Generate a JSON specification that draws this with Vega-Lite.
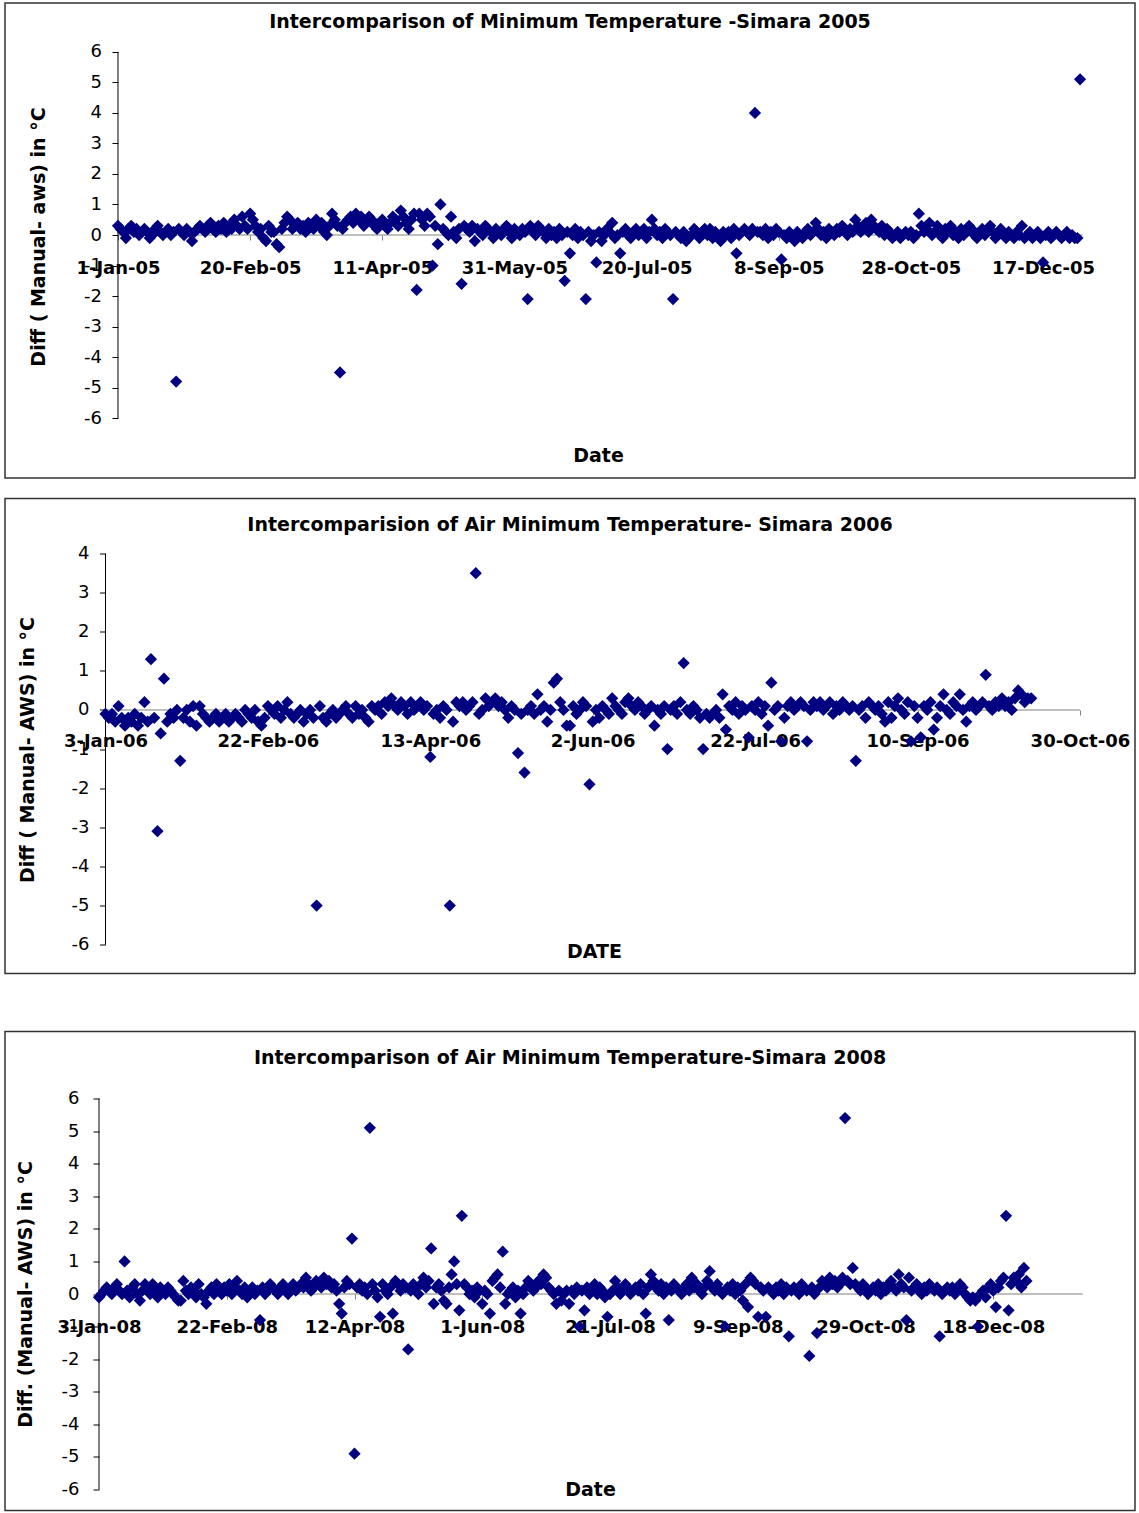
{
"$schema": "https://vega.github.io/schema/vega-lite/v6.json",
"background": "white",
"padding": {"left": 4, "top": 2, "right": 0, "bottom": 0},
"config": {
  "view": {"stroke": "#333333", "strokeWidth": 1.5},
  "font": "DejaVu Sans",
  "title": {"font": "DejaVu Sans", "fontSize": 19, "fontWeight": "bold", "color": "#000000", "anchor": "middle", "baseline": "alphabetic"},
  "axis": {"grid": false, "domain": false, "labelColor": "#000000", "titleColor": "#000000", "labelFont": "DejaVu Sans", "titleFont": "DejaVu Sans", "titleFontSize": 19, "titleFontWeight": "bold", "labelFlush": false, "labelOverlap": false, "labelBound": false, "titleBaseline": "middle", "titleAlign": "center"},
  "axisX": {"tickSize": 5, "tickColor": "#808080", "labelFontSize": 18, "labelFontWeight": "bold", "format": "%-d-%b-%y"},
  "axisY": {"tickSize": 6, "tickColor": "#000000", "labelFontSize": 18, "labelFontWeight": "normal", "labelExpr": "'' + datum.value"}
},
"datasets": {
"p2005": [
{"d":"2005-01-01","v":0.3},{"d":"2005-01-02","v":0.2},{"d":"2005-01-03","v":0.1},{"d":"2005-01-04","v":-0.1},{"d":"2005-01-05","v":0.2},{"d":"2005-01-06","v":0.3},{"d":"2005-01-07","v":0.1},{"d":"2005-01-08","v":0.2},{"d":"2005-01-09","v":0},{"d":"2005-01-10","v":0.1},{"d":"2005-01-11","v":0.2},{"d":"2005-01-12","v":0.1},{"d":"2005-01-13","v":-0.1},{"d":"2005-01-14","v":0},{"d":"2005-01-15","v":0.2},{"d":"2005-01-16","v":0.3},{"d":"2005-01-17","v":0.1},{"d":"2005-01-18","v":0},{"d":"2005-01-19","v":0.1},{"d":"2005-01-20","v":0.2},{"d":"2005-01-21","v":0},{"d":"2005-01-22","v":0.1},{"d":"2005-01-23","v":-4.8},{"d":"2005-01-24","v":0.2},{"d":"2005-01-25","v":0.1},{"d":"2005-01-26","v":0},{"d":"2005-01-27","v":0.2},{"d":"2005-01-28","v":0.1},{"d":"2005-01-29","v":-0.2},{"d":"2005-01-30","v":0.1},{"d":"2005-01-31","v":0.2},
{"d":"2005-02-01","v":0.3},{"d":"2005-02-02","v":0.2},{"d":"2005-02-03","v":0.1},{"d":"2005-02-04","v":0.3},{"d":"2005-02-05","v":0.4},{"d":"2005-02-06","v":0.2},{"d":"2005-02-07","v":0.1},{"d":"2005-02-08","v":0.3},{"d":"2005-02-09","v":0.2},{"d":"2005-02-10","v":0.4},{"d":"2005-02-11","v":0.1},{"d":"2005-02-12","v":0.3},{"d":"2005-02-13","v":0.2},{"d":"2005-02-14","v":0.5},{"d":"2005-02-15","v":0.3},{"d":"2005-02-16","v":0.2},{"d":"2005-02-17","v":0.6},{"d":"2005-02-18","v":0.3},{"d":"2005-02-19","v":0.2},{"d":"2005-02-20","v":0.7},{"d":"2005-02-21","v":0.5},{"d":"2005-02-22","v":0.3},{"d":"2005-02-23","v":0.1},{"d":"2005-02-24","v":0.2},{"d":"2005-02-25","v":-0.1},{"d":"2005-02-26","v":-0.2},{"d":"2005-02-27","v":0.3},{"d":"2005-02-28","v":0.1},
{"d":"2005-03-01","v":0.1},{"d":"2005-03-02","v":-0.3},{"d":"2005-03-03","v":-0.4},{"d":"2005-03-04","v":0.2},{"d":"2005-03-05","v":0.4},{"d":"2005-03-06","v":0.6},{"d":"2005-03-07","v":0.5},{"d":"2005-03-08","v":0.2},{"d":"2005-03-09","v":0.3},{"d":"2005-03-10","v":0.4},{"d":"2005-03-11","v":0.2},{"d":"2005-03-12","v":0.3},{"d":"2005-03-13","v":0.1},{"d":"2005-03-14","v":0.4},{"d":"2005-03-15","v":0.3},{"d":"2005-03-16","v":0.2},{"d":"2005-03-17","v":0.5},{"d":"2005-03-18","v":0.3},{"d":"2005-03-19","v":0.4},{"d":"2005-03-20","v":0.1},{"d":"2005-03-21","v":0},{"d":"2005-03-22","v":0.3},{"d":"2005-03-23","v":0.7},{"d":"2005-03-24","v":0.5},{"d":"2005-03-25","v":0.3},{"d":"2005-03-26","v":-4.5},{"d":"2005-03-27","v":0.2},{"d":"2005-03-28","v":0.4},{"d":"2005-03-29","v":0.5},{"d":"2005-03-30","v":0.6},{"d":"2005-03-31","v":0.4},
{"d":"2005-04-01","v":0.7},{"d":"2005-04-02","v":0.5},{"d":"2005-04-03","v":0.6},{"d":"2005-04-04","v":0.3},{"d":"2005-04-05","v":0.4},{"d":"2005-04-06","v":0.6},{"d":"2005-04-07","v":0.5},{"d":"2005-04-08","v":0.3},{"d":"2005-04-09","v":0.2},{"d":"2005-04-10","v":0.4},{"d":"2005-04-11","v":0.5},{"d":"2005-04-12","v":0.3},{"d":"2005-04-13","v":0.2},{"d":"2005-04-14","v":0.4},{"d":"2005-04-15","v":0.6},{"d":"2005-04-16","v":0.5},{"d":"2005-04-17","v":0.3},{"d":"2005-04-18","v":0.8},{"d":"2005-04-19","v":0.6},{"d":"2005-04-20","v":0.4},{"d":"2005-04-21","v":0.2},{"d":"2005-04-22","v":0.5},{"d":"2005-04-23","v":0.7},{"d":"2005-04-24","v":-1.8},{"d":"2005-04-25","v":0.7},{"d":"2005-04-26","v":0.5},{"d":"2005-04-27","v":0.3},{"d":"2005-04-28","v":0.7},{"d":"2005-04-29","v":0.6},{"d":"2005-04-30","v":-1},
{"d":"2005-05-01","v":0.3},{"d":"2005-05-02","v":-0.3},{"d":"2005-05-03","v":1},{"d":"2005-05-04","v":0.2},{"d":"2005-05-05","v":0.1},{"d":"2005-05-06","v":0},{"d":"2005-05-07","v":0.6},{"d":"2005-05-08","v":0.1},{"d":"2005-05-09","v":-0.1},{"d":"2005-05-10","v":0.2},{"d":"2005-05-11","v":-1.6},{"d":"2005-05-12","v":0.3},{"d":"2005-05-13","v":0.2},{"d":"2005-05-14","v":0.1},{"d":"2005-05-15","v":0.3},{"d":"2005-05-16","v":-0.2},{"d":"2005-05-17","v":0.2},{"d":"2005-05-18","v":0.1},{"d":"2005-05-19","v":0},{"d":"2005-05-20","v":0.3},{"d":"2005-05-21","v":0.2},{"d":"2005-05-22","v":0.1},{"d":"2005-05-23","v":-0.1},{"d":"2005-05-24","v":0.2},{"d":"2005-05-25","v":0.1},{"d":"2005-05-26","v":0},{"d":"2005-05-27","v":0.2},{"d":"2005-05-28","v":0.3},{"d":"2005-05-29","v":0.1},{"d":"2005-05-30","v":-0.1},{"d":"2005-05-31","v":0.2},
{"d":"2005-06-01","v":0.1},{"d":"2005-06-02","v":0},{"d":"2005-06-03","v":0.2},{"d":"2005-06-04","v":0.1},{"d":"2005-06-05","v":-2.1},{"d":"2005-06-06","v":0.3},{"d":"2005-06-07","v":0.1},{"d":"2005-06-08","v":0},{"d":"2005-06-09","v":0.3},{"d":"2005-06-10","v":0.2},{"d":"2005-06-11","v":0.1},{"d":"2005-06-12","v":-0.1},{"d":"2005-06-13","v":0.2},{"d":"2005-06-14","v":0},{"d":"2005-06-15","v":0.1},{"d":"2005-06-16","v":-0.1},{"d":"2005-06-17","v":0.2},{"d":"2005-06-18","v":0},{"d":"2005-06-19","v":-1.5},{"d":"2005-06-20","v":0.1},{"d":"2005-06-21","v":-0.6},{"d":"2005-06-22","v":0},{"d":"2005-06-23","v":0.2},{"d":"2005-06-24","v":-0.1},{"d":"2005-06-25","v":0.1},{"d":"2005-06-26","v":0},{"d":"2005-06-27","v":-2.1},{"d":"2005-06-28","v":0.1},{"d":"2005-06-29","v":-0.2},{"d":"2005-06-30","v":0},
{"d":"2005-07-01","v":-0.9},{"d":"2005-07-02","v":0.1},{"d":"2005-07-03","v":-0.2},{"d":"2005-07-04","v":0},{"d":"2005-07-05","v":0.2},{"d":"2005-07-06","v":0.1},{"d":"2005-07-07","v":0.4},{"d":"2005-07-08","v":-0.1},{"d":"2005-07-09","v":0},{"d":"2005-07-10","v":-0.6},{"d":"2005-07-11","v":0.1},{"d":"2005-07-12","v":0.2},{"d":"2005-07-13","v":0},{"d":"2005-07-14","v":-0.1},{"d":"2005-07-15","v":0.1},{"d":"2005-07-16","v":0.2},{"d":"2005-07-17","v":0},{"d":"2005-07-18","v":0.1},{"d":"2005-07-19","v":0.2},{"d":"2005-07-20","v":-0.1},{"d":"2005-07-21","v":0.1},{"d":"2005-07-22","v":0.5},{"d":"2005-07-23","v":0.2},{"d":"2005-07-24","v":0},{"d":"2005-07-25","v":0.1},{"d":"2005-07-26","v":-0.1},{"d":"2005-07-27","v":0.2},{"d":"2005-07-28","v":0.1},{"d":"2005-07-29","v":0},{"d":"2005-07-30","v":-2.1},{"d":"2005-07-31","v":0.1},
{"d":"2005-08-01","v":0},{"d":"2005-08-02","v":-0.1},{"d":"2005-08-03","v":0.1},{"d":"2005-08-04","v":-0.2},{"d":"2005-08-05","v":-0.1},{"d":"2005-08-06","v":0},{"d":"2005-08-07","v":0.2},{"d":"2005-08-08","v":0.1},{"d":"2005-08-09","v":-0.1},{"d":"2005-08-10","v":0.1},{"d":"2005-08-11","v":0.2},{"d":"2005-08-12","v":0},{"d":"2005-08-13","v":0.2},{"d":"2005-08-14","v":-0.1},{"d":"2005-08-15","v":0.1},{"d":"2005-08-16","v":0},{"d":"2005-08-17","v":-0.2},{"d":"2005-08-18","v":0.1},{"d":"2005-08-19","v":0},{"d":"2005-08-20","v":0.1},{"d":"2005-08-21","v":-0.1},{"d":"2005-08-22","v":0.2},{"d":"2005-08-23","v":-0.6},{"d":"2005-08-24","v":0},{"d":"2005-08-25","v":0.1},{"d":"2005-08-26","v":0.2},{"d":"2005-08-27","v":0.1},{"d":"2005-08-28","v":0},{"d":"2005-08-29","v":0.2},{"d":"2005-08-30","v":4},{"d":"2005-08-31","v":0.1},
{"d":"2005-09-01","v":0.1},{"d":"2005-09-02","v":0},{"d":"2005-09-03","v":0.2},{"d":"2005-09-04","v":-0.1},{"d":"2005-09-05","v":0.1},{"d":"2005-09-06","v":0},{"d":"2005-09-07","v":0.2},{"d":"2005-09-08","v":0.1},{"d":"2005-09-09","v":-0.8},{"d":"2005-09-10","v":0},{"d":"2005-09-11","v":-0.1},{"d":"2005-09-12","v":0.1},{"d":"2005-09-13","v":0},{"d":"2005-09-14","v":-0.2},{"d":"2005-09-15","v":0.1},{"d":"2005-09-16","v":0},{"d":"2005-09-17","v":-0.1},{"d":"2005-09-18","v":0.1},{"d":"2005-09-19","v":0.2},{"d":"2005-09-20","v":0},{"d":"2005-09-21","v":0.1},{"d":"2005-09-22","v":0.4},{"d":"2005-09-23","v":0.2},{"d":"2005-09-24","v":0},{"d":"2005-09-25","v":0.1},{"d":"2005-09-26","v":-0.1},{"d":"2005-09-27","v":0.2},{"d":"2005-09-28","v":0.1},{"d":"2005-09-29","v":0},{"d":"2005-09-30","v":0.2},
{"d":"2005-10-01","v":0.1},{"d":"2005-10-02","v":0.3},{"d":"2005-10-03","v":0.2},{"d":"2005-10-04","v":0},{"d":"2005-10-05","v":0.2},{"d":"2005-10-06","v":0.1},{"d":"2005-10-07","v":0.5},{"d":"2005-10-08","v":0.3},{"d":"2005-10-09","v":0.1},{"d":"2005-10-10","v":0.2},{"d":"2005-10-11","v":0.4},{"d":"2005-10-12","v":0.1},{"d":"2005-10-13","v":0.5},{"d":"2005-10-14","v":0.3},{"d":"2005-10-15","v":0.2},{"d":"2005-10-16","v":0.1},{"d":"2005-10-17","v":0.3},{"d":"2005-10-18","v":0},{"d":"2005-10-19","v":0.2},{"d":"2005-10-20","v":0.1},{"d":"2005-10-21","v":-0.1},{"d":"2005-10-22","v":0},{"d":"2005-10-23","v":0.1},{"d":"2005-10-24","v":-0.1},{"d":"2005-10-25","v":0},{"d":"2005-10-26","v":0.1},{"d":"2005-10-27","v":0},{"d":"2005-10-28","v":0.1},{"d":"2005-10-29","v":-0.1},{"d":"2005-10-30","v":0},{"d":"2005-10-31","v":0.7},
{"d":"2005-11-01","v":0.3},{"d":"2005-11-02","v":0.1},{"d":"2005-11-03","v":0.2},{"d":"2005-11-04","v":0.4},{"d":"2005-11-05","v":0},{"d":"2005-11-06","v":0.1},{"d":"2005-11-07","v":0.3},{"d":"2005-11-08","v":0},{"d":"2005-11-09","v":-0.1},{"d":"2005-11-10","v":0.2},{"d":"2005-11-11","v":0.1},{"d":"2005-11-12","v":0.3},{"d":"2005-11-13","v":0},{"d":"2005-11-14","v":0.1},{"d":"2005-11-15","v":-0.1},{"d":"2005-11-16","v":0.2},{"d":"2005-11-17","v":0},{"d":"2005-11-18","v":0.1},{"d":"2005-11-19","v":0.3},{"d":"2005-11-20","v":0.2},{"d":"2005-11-21","v":0},{"d":"2005-11-22","v":-0.1},{"d":"2005-11-23","v":0.1},{"d":"2005-11-24","v":0.2},{"d":"2005-11-25","v":0},{"d":"2005-11-26","v":0.1},{"d":"2005-11-27","v":0.3},{"d":"2005-11-28","v":0.1},{"d":"2005-11-29","v":-0.1},{"d":"2005-11-30","v":0},
{"d":"2005-12-01","v":0.2},{"d":"2005-12-02","v":0},{"d":"2005-12-03","v":-0.1},{"d":"2005-12-04","v":0.1},{"d":"2005-12-05","v":0},{"d":"2005-12-06","v":-0.1},{"d":"2005-12-07","v":0.1},{"d":"2005-12-08","v":0},{"d":"2005-12-09","v":0.3},{"d":"2005-12-10","v":-0.1},{"d":"2005-12-11","v":0},{"d":"2005-12-12","v":0.1},{"d":"2005-12-13","v":-0.1},{"d":"2005-12-14","v":0},{"d":"2005-12-15","v":0.1},{"d":"2005-12-16","v":-0.1},{"d":"2005-12-17","v":-0.9},{"d":"2005-12-18","v":0},{"d":"2005-12-19","v":0.1},{"d":"2005-12-20","v":-0.1},{"d":"2005-12-21","v":0},{"d":"2005-12-22","v":0.1},{"d":"2005-12-23","v":0},{"d":"2005-12-24","v":-0.1},{"d":"2005-12-25","v":0},{"d":"2005-12-26","v":0.1},{"d":"2005-12-27","v":-0.1},{"d":"2005-12-28","v":0},{"d":"2005-12-29","v":-0.1},{"d":"2005-12-30","v":-0.1},{"d":"2005-12-31","v":5.1}
],
"p2006": [
{"d":"2006-01-03","v":-0.1},{"d":"2006-01-04","v":-0.2},{"d":"2006-01-05","v":-0.1},{"d":"2006-01-06","v":-0.3},{"d":"2006-01-07","v":0.1},{"d":"2006-01-08","v":-0.2},{"d":"2006-01-09","v":-0.4},{"d":"2006-01-10","v":-0.2},{"d":"2006-01-11","v":-0.3},{"d":"2006-01-12","v":-0.1},{"d":"2006-01-13","v":-0.4},{"d":"2006-01-14","v":-0.2},{"d":"2006-01-15","v":0.2},{"d":"2006-01-16","v":-0.3},{"d":"2006-01-17","v":1.3},{"d":"2006-01-18","v":-0.2},{"d":"2006-01-19","v":-3.1},{"d":"2006-01-20","v":-0.6},{"d":"2006-01-21","v":0.8},{"d":"2006-01-22","v":-0.3},{"d":"2006-01-23","v":-0.1},{"d":"2006-01-24","v":-0.2},{"d":"2006-01-25","v":0},{"d":"2006-01-26","v":-1.3},{"d":"2006-01-27","v":-0.2},{"d":"2006-01-28","v":0},{"d":"2006-01-29","v":-0.3},{"d":"2006-01-30","v":0.1},{"d":"2006-01-31","v":-0.4},
{"d":"2006-02-01","v":0.1},{"d":"2006-02-02","v":-0.1},{"d":"2006-02-03","v":-0.2},{"d":"2006-02-04","v":-0.3},{"d":"2006-02-05","v":-0.2},{"d":"2006-02-06","v":-0.1},{"d":"2006-02-07","v":-0.3},{"d":"2006-02-08","v":-0.2},{"d":"2006-02-09","v":-0.1},{"d":"2006-02-10","v":-0.3},{"d":"2006-02-11","v":-0.2},{"d":"2006-02-12","v":-0.1},{"d":"2006-02-13","v":-0.2},{"d":"2006-02-14","v":-0.3},{"d":"2006-02-15","v":0},{"d":"2006-02-16","v":-0.1},{"d":"2006-02-17","v":-0.2},{"d":"2006-02-18","v":0},{"d":"2006-02-19","v":-0.3},{"d":"2006-02-20","v":-0.4},{"d":"2006-02-21","v":-0.2},{"d":"2006-02-22","v":0.1},{"d":"2006-02-23","v":0},{"d":"2006-02-24","v":-0.1},{"d":"2006-02-25","v":0.1},{"d":"2006-02-26","v":-0.2},{"d":"2006-02-27","v":0},{"d":"2006-02-28","v":0.2},
{"d":"2006-03-01","v":-0.1},{"d":"2006-03-02","v":-0.2},{"d":"2006-03-03","v":-0.1},{"d":"2006-03-04","v":0},{"d":"2006-03-05","v":-0.3},{"d":"2006-03-06","v":-0.1},{"d":"2006-03-07","v":0},{"d":"2006-03-08","v":-0.2},{"d":"2006-03-09","v":-5},{"d":"2006-03-10","v":0.1},{"d":"2006-03-11","v":-0.2},{"d":"2006-03-12","v":-0.3},{"d":"2006-03-13","v":-0.1},{"d":"2006-03-14","v":0},{"d":"2006-03-15","v":-0.2},{"d":"2006-03-16","v":-0.1},{"d":"2006-03-17","v":0},{"d":"2006-03-18","v":0.1},{"d":"2006-03-19","v":-0.1},{"d":"2006-03-20","v":-0.2},{"d":"2006-03-21","v":0.1},{"d":"2006-03-22","v":-0.1},{"d":"2006-03-23","v":0},{"d":"2006-03-24","v":-0.2},{"d":"2006-03-25","v":-0.3},{"d":"2006-03-26","v":0.1},{"d":"2006-03-27","v":0},{"d":"2006-03-28","v":0.1},{"d":"2006-03-29","v":-0.1},{"d":"2006-03-30","v":0.2},{"d":"2006-03-31","v":0.1},
{"d":"2006-04-01","v":0.3},{"d":"2006-04-02","v":0.1},{"d":"2006-04-03","v":0},{"d":"2006-04-04","v":0.2},{"d":"2006-04-05","v":0.1},{"d":"2006-04-06","v":-0.1},{"d":"2006-04-07","v":0.2},{"d":"2006-04-08","v":0},{"d":"2006-04-09","v":0.1},{"d":"2006-04-10","v":0.2},{"d":"2006-04-11","v":0},{"d":"2006-04-12","v":0.1},{"d":"2006-04-13","v":-1.2},{"d":"2006-04-14","v":-0.1},{"d":"2006-04-15","v":0},{"d":"2006-04-16","v":-0.2},{"d":"2006-04-17","v":0.1},{"d":"2006-04-18","v":0},{"d":"2006-04-19","v":-5},{"d":"2006-04-20","v":-0.3},{"d":"2006-04-21","v":0.2},{"d":"2006-04-22","v":0.1},{"d":"2006-04-23","v":0.2},{"d":"2006-04-24","v":0},{"d":"2006-04-25","v":0.1},{"d":"2006-04-26","v":0.2},{"d":"2006-04-27","v":3.5},{"d":"2006-04-28","v":-0.1},{"d":"2006-04-29","v":0},{"d":"2006-04-30","v":0.3},
{"d":"2006-05-01","v":0.1},{"d":"2006-05-02","v":0.2},{"d":"2006-05-03","v":0.3},{"d":"2006-05-04","v":0.1},{"d":"2006-05-05","v":0.2},{"d":"2006-05-06","v":0},{"d":"2006-05-07","v":-0.2},{"d":"2006-05-08","v":0.1},{"d":"2006-05-09","v":0},{"d":"2006-05-10","v":-1.1},{"d":"2006-05-11","v":-0.1},{"d":"2006-05-12","v":-1.6},{"d":"2006-05-13","v":0},{"d":"2006-05-14","v":0.1},{"d":"2006-05-15","v":-0.1},{"d":"2006-05-16","v":0.4},{"d":"2006-05-17","v":0},{"d":"2006-05-18","v":0.1},{"d":"2006-05-19","v":-0.3},{"d":"2006-05-20","v":0},{"d":"2006-05-21","v":0.7},{"d":"2006-05-22","v":0.8},{"d":"2006-05-23","v":0.2},{"d":"2006-05-24","v":0},{"d":"2006-05-25","v":-0.4},{"d":"2006-05-26","v":-0.4},{"d":"2006-05-27","v":0.1},{"d":"2006-05-28","v":-0.1},{"d":"2006-05-29","v":0},{"d":"2006-05-30","v":0.2},{"d":"2006-05-31","v":0.1},
{"d":"2006-06-01","v":-1.9},{"d":"2006-06-02","v":-0.3},{"d":"2006-06-03","v":0},{"d":"2006-06-04","v":-0.2},{"d":"2006-06-05","v":0.1},{"d":"2006-06-06","v":0},{"d":"2006-06-07","v":-0.1},{"d":"2006-06-08","v":0.3},{"d":"2006-06-09","v":0.1},{"d":"2006-06-10","v":0},{"d":"2006-06-11","v":-0.1},{"d":"2006-06-12","v":0.2},{"d":"2006-06-13","v":0.3},{"d":"2006-06-14","v":0.1},{"d":"2006-06-15","v":0},{"d":"2006-06-16","v":0.2},{"d":"2006-06-17","v":0.1},{"d":"2006-06-18","v":-0.1},{"d":"2006-06-19","v":0},{"d":"2006-06-20","v":0.1},{"d":"2006-06-21","v":-0.4},{"d":"2006-06-22","v":0},{"d":"2006-06-23","v":-0.1},{"d":"2006-06-24","v":0.1},{"d":"2006-06-25","v":-1},{"d":"2006-06-26","v":0},{"d":"2006-06-27","v":0.1},{"d":"2006-06-28","v":-0.1},{"d":"2006-06-29","v":0.2},{"d":"2006-06-30","v":1.2},
{"d":"2006-07-01","v":0},{"d":"2006-07-02","v":-0.1},{"d":"2006-07-03","v":0.1},{"d":"2006-07-04","v":0},{"d":"2006-07-05","v":-0.2},{"d":"2006-07-06","v":-1},{"d":"2006-07-07","v":-0.1},{"d":"2006-07-08","v":-0.2},{"d":"2006-07-09","v":-0.1},{"d":"2006-07-10","v":0},{"d":"2006-07-11","v":-0.2},{"d":"2006-07-12","v":0.4},{"d":"2006-07-13","v":-0.5},{"d":"2006-07-14","v":0.1},{"d":"2006-07-15","v":0},{"d":"2006-07-16","v":0.2},{"d":"2006-07-17","v":-0.1},{"d":"2006-07-18","v":0.1},{"d":"2006-07-19","v":0},{"d":"2006-07-20","v":-0.7},{"d":"2006-07-21","v":0.1},{"d":"2006-07-22","v":0},{"d":"2006-07-23","v":0.2},{"d":"2006-07-24","v":-0.1},{"d":"2006-07-25","v":0.1},{"d":"2006-07-26","v":-0.4},{"d":"2006-07-27","v":0.7},{"d":"2006-07-28","v":0},{"d":"2006-07-29","v":0.1},{"d":"2006-07-30","v":-0.8},{"d":"2006-07-31","v":-0.2},
{"d":"2006-08-01","v":0.1},{"d":"2006-08-02","v":0.2},{"d":"2006-08-03","v":0},{"d":"2006-08-04","v":0.1},{"d":"2006-08-05","v":0.2},{"d":"2006-08-06","v":0.1},{"d":"2006-08-07","v":-0.8},{"d":"2006-08-08","v":0},{"d":"2006-08-09","v":0.2},{"d":"2006-08-10","v":0.1},{"d":"2006-08-11","v":0.2},{"d":"2006-08-12","v":0},{"d":"2006-08-13","v":0.1},{"d":"2006-08-14","v":0.2},{"d":"2006-08-15","v":-0.1},{"d":"2006-08-16","v":0.1},{"d":"2006-08-17","v":0},{"d":"2006-08-18","v":0.2},{"d":"2006-08-19","v":0.1},{"d":"2006-08-20","v":0},{"d":"2006-08-21","v":0.1},{"d":"2006-08-22","v":-1.3},{"d":"2006-08-23","v":0},{"d":"2006-08-24","v":0.1},{"d":"2006-08-25","v":-0.2},{"d":"2006-08-26","v":0.2},{"d":"2006-08-27","v":0.1},{"d":"2006-08-28","v":0},{"d":"2006-08-29","v":0.1},{"d":"2006-08-30","v":-0.1},{"d":"2006-08-31","v":-0.3},
{"d":"2006-09-01","v":0.2},{"d":"2006-09-02","v":-0.2},{"d":"2006-09-03","v":0.1},{"d":"2006-09-04","v":0.3},{"d":"2006-09-05","v":0},{"d":"2006-09-06","v":-0.1},{"d":"2006-09-07","v":0.2},{"d":"2006-09-08","v":-0.8},{"d":"2006-09-09","v":0.1},{"d":"2006-09-10","v":-0.2},{"d":"2006-09-11","v":-0.7},{"d":"2006-09-12","v":0.1},{"d":"2006-09-13","v":0},{"d":"2006-09-14","v":0.2},{"d":"2006-09-15","v":-0.5},{"d":"2006-09-16","v":-0.2},{"d":"2006-09-17","v":0.1},{"d":"2006-09-18","v":0.4},{"d":"2006-09-19","v":0},{"d":"2006-09-20","v":-0.1},{"d":"2006-09-21","v":0.2},{"d":"2006-09-22","v":0.1},{"d":"2006-09-23","v":0.4},{"d":"2006-09-24","v":0},{"d":"2006-09-25","v":-0.3},{"d":"2006-09-26","v":0.1},{"d":"2006-09-27","v":0.2},{"d":"2006-09-28","v":0},{"d":"2006-09-29","v":0.1},{"d":"2006-09-30","v":0.2},
{"d":"2006-10-01","v":0.9},{"d":"2006-10-02","v":0.1},{"d":"2006-10-03","v":0},{"d":"2006-10-04","v":0.2},{"d":"2006-10-05","v":0.1},{"d":"2006-10-06","v":0.3},{"d":"2006-10-07","v":0.1},{"d":"2006-10-08","v":0.2},{"d":"2006-10-09","v":0},{"d":"2006-10-10","v":0.3},{"d":"2006-10-11","v":0.5},{"d":"2006-10-12","v":0.4},{"d":"2006-10-13","v":0.2},{"d":"2006-10-14","v":0.3},{"d":"2006-10-15","v":0.3}
],
"p2008": [
{"d":"2008-01-03","v":-0.1},{"d":"2008-01-04","v":0},{"d":"2008-01-05","v":0.1},{"d":"2008-01-06","v":0.2},{"d":"2008-01-07","v":0.1},{"d":"2008-01-08","v":0},{"d":"2008-01-09","v":0.2},{"d":"2008-01-10","v":0.3},{"d":"2008-01-11","v":0.1},{"d":"2008-01-12","v":0},{"d":"2008-01-13","v":1},{"d":"2008-01-14","v":0.1},{"d":"2008-01-15","v":-0.1},{"d":"2008-01-16","v":0.2},{"d":"2008-01-17","v":0.3},{"d":"2008-01-18","v":0},{"d":"2008-01-19","v":-0.2},{"d":"2008-01-20","v":0.1},{"d":"2008-01-21","v":0.3},{"d":"2008-01-22","v":0.2},{"d":"2008-01-23","v":0},{"d":"2008-01-24","v":0.3},{"d":"2008-01-25","v":0.1},{"d":"2008-01-26","v":-0.1},{"d":"2008-01-27","v":0.2},{"d":"2008-01-28","v":0.1},{"d":"2008-01-29","v":0},{"d":"2008-01-30","v":0.2},{"d":"2008-01-31","v":0.1},
{"d":"2008-02-01","v":0},{"d":"2008-02-02","v":-0.1},{"d":"2008-02-03","v":-0.2},{"d":"2008-02-04","v":-0.2},{"d":"2008-02-05","v":0.4},{"d":"2008-02-06","v":0.1},{"d":"2008-02-07","v":0},{"d":"2008-02-08","v":0.2},{"d":"2008-02-09","v":0.1},{"d":"2008-02-10","v":-0.1},{"d":"2008-02-11","v":0.3},{"d":"2008-02-12","v":0},{"d":"2008-02-13","v":-0.1},{"d":"2008-02-14","v":-0.3},{"d":"2008-02-15","v":0.1},{"d":"2008-02-16","v":0.2},{"d":"2008-02-17","v":0},{"d":"2008-02-18","v":0.3},{"d":"2008-02-19","v":0.1},{"d":"2008-02-20","v":0},{"d":"2008-02-21","v":0.2},{"d":"2008-02-22","v":0.1},{"d":"2008-02-23","v":0.3},{"d":"2008-02-24","v":0},{"d":"2008-02-25","v":0.2},{"d":"2008-02-26","v":0.4},{"d":"2008-02-27","v":0.1},{"d":"2008-02-28","v":0},{"d":"2008-02-29","v":0.2},
{"d":"2008-03-01","v":-0.1},{"d":"2008-03-02","v":0.1},{"d":"2008-03-03","v":0.2},{"d":"2008-03-04","v":0},{"d":"2008-03-05","v":0.1},{"d":"2008-03-06","v":-0.8},{"d":"2008-03-07","v":0.2},{"d":"2008-03-08","v":0},{"d":"2008-03-09","v":0.1},{"d":"2008-03-10","v":0.3},{"d":"2008-03-11","v":0.2},{"d":"2008-03-12","v":0.1},{"d":"2008-03-13","v":0},{"d":"2008-03-14","v":0.2},{"d":"2008-03-15","v":0.3},{"d":"2008-03-16","v":0.1},{"d":"2008-03-17","v":0},{"d":"2008-03-18","v":0.2},{"d":"2008-03-19","v":0.3},{"d":"2008-03-20","v":0.1},{"d":"2008-03-21","v":0.2},{"d":"2008-03-22","v":0.3},{"d":"2008-03-23","v":0.2},{"d":"2008-03-24","v":0.5},{"d":"2008-03-25","v":0.3},{"d":"2008-03-26","v":0.1},{"d":"2008-03-27","v":0.2},{"d":"2008-03-28","v":0.4},{"d":"2008-03-29","v":0.3},{"d":"2008-03-30","v":0.2},{"d":"2008-03-31","v":0.5},
{"d":"2008-04-01","v":0.3},{"d":"2008-04-02","v":0.4},{"d":"2008-04-03","v":0.2},{"d":"2008-04-04","v":0.3},{"d":"2008-04-05","v":0.1},{"d":"2008-04-06","v":-0.3},{"d":"2008-04-07","v":-0.6},{"d":"2008-04-08","v":0.2},{"d":"2008-04-09","v":0.4},{"d":"2008-04-10","v":0.3},{"d":"2008-04-11","v":1.7},{"d":"2008-04-12","v":-4.9},{"d":"2008-04-13","v":0.2},{"d":"2008-04-14","v":0.3},{"d":"2008-04-15","v":0.1},{"d":"2008-04-16","v":0.2},{"d":"2008-04-17","v":0},{"d":"2008-04-18","v":5.1},{"d":"2008-04-19","v":0.3},{"d":"2008-04-20","v":0.1},{"d":"2008-04-21","v":-0.1},{"d":"2008-04-22","v":-0.7},{"d":"2008-04-23","v":0.3},{"d":"2008-04-24","v":0.1},{"d":"2008-04-25","v":0},{"d":"2008-04-26","v":0.2},{"d":"2008-04-27","v":-0.6},{"d":"2008-04-28","v":0.4},{"d":"2008-04-29","v":0.3},{"d":"2008-04-30","v":0.1},
{"d":"2008-05-01","v":0.3},{"d":"2008-05-02","v":0.2},{"d":"2008-05-03","v":-1.7},{"d":"2008-05-04","v":0.1},{"d":"2008-05-05","v":0.3},{"d":"2008-05-06","v":0.2},{"d":"2008-05-07","v":0},{"d":"2008-05-08","v":0.3},{"d":"2008-05-09","v":0.5},{"d":"2008-05-10","v":0.2},{"d":"2008-05-11","v":0.4},{"d":"2008-05-12","v":1.4},{"d":"2008-05-13","v":-0.3},{"d":"2008-05-14","v":0.2},{"d":"2008-05-15","v":0.3},{"d":"2008-05-16","v":0.1},{"d":"2008-05-17","v":-0.2},{"d":"2008-05-18","v":-0.3},{"d":"2008-05-19","v":0.2},{"d":"2008-05-20","v":0.6},{"d":"2008-05-21","v":1},{"d":"2008-05-22","v":0.3},{"d":"2008-05-23","v":-0.5},{"d":"2008-05-24","v":2.4},{"d":"2008-05-25","v":0.3},{"d":"2008-05-26","v":0.2},{"d":"2008-05-27","v":0},{"d":"2008-05-28","v":0.1},{"d":"2008-05-29","v":-0.1},{"d":"2008-05-30","v":0.2},{"d":"2008-05-31","v":0.1},
{"d":"2008-06-01","v":-0.3},{"d":"2008-06-02","v":0.1},{"d":"2008-06-03","v":0},{"d":"2008-06-04","v":-0.6},{"d":"2008-06-05","v":0.4},{"d":"2008-06-06","v":0.5},{"d":"2008-06-07","v":0.6},{"d":"2008-06-08","v":0.2},{"d":"2008-06-09","v":1.3},{"d":"2008-06-10","v":-0.3},{"d":"2008-06-11","v":0},{"d":"2008-06-12","v":0.1},{"d":"2008-06-13","v":0.2},{"d":"2008-06-14","v":-0.1},{"d":"2008-06-15","v":0.1},{"d":"2008-06-16","v":-0.6},{"d":"2008-06-17","v":0},{"d":"2008-06-18","v":0.2},{"d":"2008-06-19","v":0.4},{"d":"2008-06-20","v":0.3},{"d":"2008-06-21","v":0.1},{"d":"2008-06-22","v":0.2},{"d":"2008-06-23","v":0.4},{"d":"2008-06-24","v":0.3},{"d":"2008-06-25","v":0.6},{"d":"2008-06-26","v":0.5},{"d":"2008-06-27","v":0.2},{"d":"2008-06-28","v":0.1},{"d":"2008-06-29","v":0},{"d":"2008-06-30","v":-0.3},
{"d":"2008-07-01","v":0.1},{"d":"2008-07-02","v":-0.2},{"d":"2008-07-03","v":0},{"d":"2008-07-04","v":0.1},{"d":"2008-07-05","v":-0.3},{"d":"2008-07-06","v":0.1},{"d":"2008-07-07","v":0},{"d":"2008-07-08","v":0.2},{"d":"2008-07-09","v":-1},{"d":"2008-07-10","v":0.1},{"d":"2008-07-11","v":-0.5},{"d":"2008-07-12","v":0.2},{"d":"2008-07-13","v":0},{"d":"2008-07-14","v":0.1},{"d":"2008-07-15","v":0.3},{"d":"2008-07-16","v":0},{"d":"2008-07-17","v":0.2},{"d":"2008-07-18","v":0.1},{"d":"2008-07-19","v":-0.1},{"d":"2008-07-20","v":-0.7},{"d":"2008-07-21","v":0},{"d":"2008-07-22","v":0.1},{"d":"2008-07-23","v":0.4},{"d":"2008-07-24","v":0.2},{"d":"2008-07-25","v":0},{"d":"2008-07-26","v":0.1},{"d":"2008-07-27","v":0.3},{"d":"2008-07-28","v":0.2},{"d":"2008-07-29","v":0},{"d":"2008-07-30","v":0.1},{"d":"2008-07-31","v":0.2},
{"d":"2008-08-01","v":0.1},{"d":"2008-08-02","v":0.3},{"d":"2008-08-03","v":0},{"d":"2008-08-04","v":-0.6},{"d":"2008-08-05","v":0.2},{"d":"2008-08-06","v":0.6},{"d":"2008-08-07","v":0.4},{"d":"2008-08-08","v":0.2},{"d":"2008-08-09","v":0.1},{"d":"2008-08-10","v":0.3},{"d":"2008-08-11","v":0},{"d":"2008-08-12","v":0.2},{"d":"2008-08-13","v":-0.8},{"d":"2008-08-14","v":0.1},{"d":"2008-08-15","v":0.3},{"d":"2008-08-16","v":0.2},{"d":"2008-08-17","v":0.1},{"d":"2008-08-18","v":0},{"d":"2008-08-19","v":0.2},{"d":"2008-08-20","v":0.3},{"d":"2008-08-21","v":0.1},{"d":"2008-08-22","v":0.5},{"d":"2008-08-23","v":0.2},{"d":"2008-08-24","v":0.3},{"d":"2008-08-25","v":0.1},{"d":"2008-08-26","v":0},{"d":"2008-08-27","v":0.2},{"d":"2008-08-28","v":0.4},{"d":"2008-08-29","v":0.7},{"d":"2008-08-30","v":0.2},{"d":"2008-08-31","v":0.1},
{"d":"2008-09-01","v":0.3},{"d":"2008-09-02","v":0.1},{"d":"2008-09-03","v":0},{"d":"2008-09-04","v":-1},{"d":"2008-09-05","v":0.2},{"d":"2008-09-06","v":0.1},{"d":"2008-09-07","v":0.3},{"d":"2008-09-08","v":0},{"d":"2008-09-09","v":0.2},{"d":"2008-09-10","v":0.1},{"d":"2008-09-11","v":-0.2},{"d":"2008-09-12","v":0.3},{"d":"2008-09-13","v":-0.4},{"d":"2008-09-14","v":0.5},{"d":"2008-09-15","v":0.4},{"d":"2008-09-16","v":0.3},{"d":"2008-09-17","v":-0.7},{"d":"2008-09-18","v":0.2},{"d":"2008-09-19","v":0.1},{"d":"2008-09-20","v":-0.7},{"d":"2008-09-21","v":0.2},{"d":"2008-09-22","v":0.1},{"d":"2008-09-23","v":0},{"d":"2008-09-24","v":0.2},{"d":"2008-09-25","v":0.1},{"d":"2008-09-26","v":0.3},{"d":"2008-09-27","v":0},{"d":"2008-09-28","v":0.2},{"d":"2008-09-29","v":-1.3},{"d":"2008-09-30","v":0.1},
{"d":"2008-10-01","v":0.2},{"d":"2008-10-02","v":0.1},{"d":"2008-10-03","v":0},{"d":"2008-10-04","v":0.3},{"d":"2008-10-05","v":0.2},{"d":"2008-10-06","v":0.1},{"d":"2008-10-07","v":-1.9},{"d":"2008-10-08","v":0.2},{"d":"2008-10-09","v":0},{"d":"2008-10-10","v":-1.2},{"d":"2008-10-11","v":0.2},{"d":"2008-10-12","v":0.4},{"d":"2008-10-13","v":0.3},{"d":"2008-10-14","v":0.2},{"d":"2008-10-15","v":0.5},{"d":"2008-10-16","v":0.3},{"d":"2008-10-17","v":0.4},{"d":"2008-10-18","v":0.2},{"d":"2008-10-19","v":0.3},{"d":"2008-10-20","v":0.5},{"d":"2008-10-21","v":5.4},{"d":"2008-10-22","v":0.4},{"d":"2008-10-23","v":0.3},{"d":"2008-10-24","v":0.8},{"d":"2008-10-25","v":0.3},{"d":"2008-10-26","v":0.2},{"d":"2008-10-27","v":0.1},{"d":"2008-10-28","v":0.3},{"d":"2008-10-29","v":0.2},{"d":"2008-10-30","v":0},{"d":"2008-10-31","v":0.1},
{"d":"2008-11-01","v":0.2},{"d":"2008-11-02","v":0.1},{"d":"2008-11-03","v":0.3},{"d":"2008-11-04","v":0},{"d":"2008-11-05","v":0.2},{"d":"2008-11-06","v":0.1},{"d":"2008-11-07","v":0.3},{"d":"2008-11-08","v":0.4},{"d":"2008-11-09","v":0.2},{"d":"2008-11-10","v":0.1},{"d":"2008-11-11","v":0.6},{"d":"2008-11-12","v":0.3},{"d":"2008-11-13","v":0.2},{"d":"2008-11-14","v":-0.8},{"d":"2008-11-15","v":0.5},{"d":"2008-11-16","v":0.1},{"d":"2008-11-17","v":0.2},{"d":"2008-11-18","v":0.3},{"d":"2008-11-19","v":0.1},{"d":"2008-11-20","v":0},{"d":"2008-11-21","v":0.2},{"d":"2008-11-22","v":0.1},{"d":"2008-11-23","v":0.3},{"d":"2008-11-24","v":0.2},{"d":"2008-11-25","v":0.1},{"d":"2008-11-26","v":0.2},{"d":"2008-11-27","v":-1.3},{"d":"2008-11-28","v":0},{"d":"2008-11-29","v":0.1},{"d":"2008-11-30","v":0.2},
{"d":"2008-12-01","v":0.1},{"d":"2008-12-02","v":0.2},{"d":"2008-12-03","v":0},{"d":"2008-12-04","v":0.1},{"d":"2008-12-05","v":0.3},{"d":"2008-12-06","v":0.2},{"d":"2008-12-07","v":0},{"d":"2008-12-08","v":-0.1},{"d":"2008-12-09","v":-0.2},{"d":"2008-12-10","v":-0.1},{"d":"2008-12-11","v":-0.2},{"d":"2008-12-12","v":-1},{"d":"2008-12-13","v":0},{"d":"2008-12-14","v":0.1},{"d":"2008-12-15","v":-0.1},{"d":"2008-12-16","v":0.2},{"d":"2008-12-17","v":0.3},{"d":"2008-12-18","v":0.1},{"d":"2008-12-19","v":-0.4},{"d":"2008-12-20","v":0.2},{"d":"2008-12-21","v":0.4},{"d":"2008-12-22","v":0.5},{"d":"2008-12-23","v":2.4},{"d":"2008-12-24","v":-0.5},{"d":"2008-12-25","v":0.3},{"d":"2008-12-26","v":0.5},{"d":"2008-12-27","v":0.4},{"d":"2008-12-28","v":0.6},{"d":"2008-12-29","v":0.2},{"d":"2008-12-30","v":0.8},{"d":"2008-12-31","v":0.4}
]
},
"spacing": 55.5,
"vconcat": [
{
"spacing": 18.5,
"vconcat": [
{
  "width": 1130, "height": 475,
  "title": {"text": "Intercomparison of Minimum Temperature -Simara  2005", "offset": -29},
  "layer": [
    {"data": {"values": [{}]}, "mark": {"type": "rule", "color": "#808080", "strokeWidth": 1},
     "encoding": {
       "x": {"datum": {"year": 2005, "month": 1, "date": 1, "utc": true}, "type": "temporal", "scale": {"type": "utc", "domain": [{"year": 2004, "month": 11, "date": 19, "hours": 6, "utc": true}, {"year": 2006, "month": 1, "date": 20, "hours": 19, "utc": true}]}},
       "x2": {"datum": {"year": 2006, "month": 1, "date": 1, "utc": true}},
       "y": {"datum": 0, "type": "quantitative", "scale": {"domain": [-7.959, 7.599], "nice": false, "zero": false}}
     }},
    {"data": {"values": [{}]}, "mark": {"type": "rule", "color": "#000000", "strokeWidth": 1},
     "encoding": {
       "x": {"datum": {"year": 2005, "month": 1, "date": 1, "utc": true}, "type": "temporal", "scale": {"type": "utc", "domain": [{"year": 2004, "month": 11, "date": 19, "hours": 6, "utc": true}, {"year": 2006, "month": 1, "date": 20, "hours": 19, "utc": true}]}},
       "y": {"datum": -6, "type": "quantitative", "scale": {"domain": [-7.959, 7.599], "nice": false, "zero": false}},
       "y2": {"datum": 6}
     }},
    {"data": {"name": "p2005"},
     "mark": {"type": "point", "shape": "diamond", "filled": true, "size": 150, "color": "#000080", "opacity": 1},
     "encoding": {
       "x": {"field": "d", "type": "temporal",
             "scale": {"type": "utc", "domain": [{"year": 2004, "month": 11, "date": 19, "hours": 6, "utc": true}, {"year": 2006, "month": 1, "date": 20, "hours": 19, "utc": true}]},
             "axis": {"values": [{"year":2005,"month":1,"date":1,"utc":true},{"year":2005,"month":2,"date":20,"utc":true},{"year":2005,"month":4,"date":11,"utc":true},{"year":2005,"month":5,"date":31,"utc":true},{"year":2005,"month":7,"date":20,"utc":true},{"year":2005,"month":9,"date":8,"utc":true},{"year":2005,"month":10,"date":28,"utc":true},{"year":2005,"month":12,"date":17,"utc":true}],
                      "tickCount": 20, "labelOverlap": false, "labelFlush": false, "labelBound": false,
                      "offset": -243, "labelPadding": 19, "title": "Date", "titleX": 593, "titleY": 220.5}},
       "y": {"field": "v", "type": "quantitative",
             "scale": {"domain": [-7.959, 7.599], "nice": false, "zero": false},
             "axis": {"values": [-6,-5,-4,-3,-2,-1,0,1,2,3,4,5,6], "tickCount": 20, "labelOverlap": false, "labelFlush": false, "labelBound": false,
                      "offset": -113, "labelPadding": 10.5, "title": "Diff ( Manual- aws) in °C", "titleX": -80, "titleY": 233.5}}
     }}
  ]
},
{
  "width": 1130, "height": 475,
  "title": {"text": "Intercomparision of Air Minimum Temperature- Simara 2006", "offset": -36},
  "layer": [
    {"data": {"values": [{}]}, "mark": {"type": "rule", "color": "#808080", "strokeWidth": 1},
     "encoding": {
       "x": {"datum": {"year": 2006, "month": 1, "date": 3, "utc": true}, "type": "temporal", "scale": {"type": "utc", "domain": [{"year": 2005, "month": 12, "date": 3, "hours": 1, "minutes": 30, "utc": true}, {"year": 2006, "month": 11, "date": 15, "hours": 23, "utc": true}]}},
       "x2": {"datum": {"year": 2006, "month": 10, "date": 30, "utc": true}},
       "y": {"datum": 0, "type": "quantitative", "scale": {"domain": [-6.739, 5.409], "nice": false, "zero": false}}
     }},
    {"data": {"values": [{}]}, "mark": {"type": "rule", "color": "#000000", "strokeWidth": 1},
     "encoding": {
       "x": {"datum": {"year": 2006, "month": 1, "date": 3, "utc": true}, "type": "temporal", "scale": {"type": "utc", "domain": [{"year": 2005, "month": 12, "date": 3, "hours": 1, "minutes": 30, "utc": true}, {"year": 2006, "month": 11, "date": 15, "hours": 23, "utc": true}]}},
       "y": {"datum": -6, "type": "quantitative", "scale": {"domain": [-6.739, 5.409], "nice": false, "zero": false}},
       "y2": {"datum": 4}
     }},
    {"data": {"name": "p2006"},
     "mark": {"type": "point", "shape": "diamond", "filled": true, "size": 150, "color": "#000080", "opacity": 1},
     "encoding": {
       "x": {"field": "d", "type": "temporal",
             "scale": {"type": "utc", "domain": [{"year": 2005, "month": 12, "date": 3, "hours": 1, "minutes": 30, "utc": true}, {"year": 2006, "month": 11, "date": 15, "hours": 23, "utc": true}]},
             "axis": {"values": [{"year":2006,"month":1,"date":3,"utc":true},{"year":2006,"month":2,"date":22,"utc":true},{"year":2006,"month":4,"date":13,"utc":true},{"year":2006,"month":6,"date":2,"utc":true},{"year":2006,"month":7,"date":22,"utc":true},{"year":2006,"month":9,"date":10,"utc":true},{"year":2006,"month":10,"date":30,"utc":true}],
                      "tickCount": 20, "labelOverlap": false, "labelFlush": false, "labelBound": false,
                      "offset": -263.5, "labelPadding": 17.5, "title": "DATE", "titleX": 589, "titleY": 241}},
       "y": {"field": "v", "type": "quantitative",
             "scale": {"domain": [-6.739, 5.409], "nice": false, "zero": false},
             "axis": {"values": [-6,-5,-4,-3,-2,-1,0,1,2,3,4], "tickCount": 20, "labelOverlap": false, "labelFlush": false, "labelBound": false,
                      "offset": -100.5, "labelPadding": 10.5, "title": "Diff ( Manual- AWS) in °C", "titleX": -78.5, "titleY": 251}}
     }}
  ]
}
]
},
{
  "width": 1130, "height": 479,
  "title": {"text": "Intercomparison of Air Minimum Temperature-Simara 2008", "offset": -36},
  "layer": [
    {"data": {"values": [{}]}, "mark": {"type": "rule", "color": "#808080", "strokeWidth": 1},
     "encoding": {
       "x": {"datum": {"year": 2008, "month": 1, "date": 3, "utc": true}, "type": "temporal", "scale": {"type": "utc", "domain": [{"year": 2007, "month": 11, "date": 27, "hours": 5, "utc": true}, {"year": 2009, "month": 2, "date": 11, "hours": 11, "minutes": 30, "utc": true}]}},
       "x2": {"datum": {"year": 2009, "month": 1, "date": 22, "utc": true}},
       "y": {"datum": 0, "type": "quantitative", "scale": {"domain": [-6.645, 8.057], "nice": false, "zero": false}}
     }},
    {"data": {"values": [{}]}, "mark": {"type": "rule", "color": "#000000", "strokeWidth": 1},
     "encoding": {
       "x": {"datum": {"year": 2008, "month": 1, "date": 3, "utc": true}, "type": "temporal", "scale": {"type": "utc", "domain": [{"year": 2007, "month": 11, "date": 27, "hours": 5, "utc": true}, {"year": 2009, "month": 2, "date": 11, "hours": 11, "minutes": 30, "utc": true}]}},
       "y": {"datum": -6, "type": "quantitative", "scale": {"domain": [-6.645, 8.057], "nice": false, "zero": false}},
       "y2": {"datum": 6}
     }},
    {"data": {"name": "p2008"},
     "mark": {"type": "point", "shape": "diamond", "filled": true, "size": 150, "color": "#000080", "opacity": 1},
     "encoding": {
       "x": {"field": "d", "type": "temporal",
             "scale": {"type": "utc", "domain": [{"year": 2007, "month": 11, "date": 27, "hours": 5, "utc": true}, {"year": 2009, "month": 2, "date": 11, "hours": 11, "minutes": 30, "utc": true}]},
             "axis": {"values": [{"year":2008,"month":1,"date":3,"utc":true},{"year":2008,"month":2,"date":22,"utc":true},{"year":2008,"month":4,"date":12,"utc":true},{"year":2008,"month":6,"date":1,"utc":true},{"year":2008,"month":7,"date":21,"utc":true},{"year":2008,"month":9,"date":9,"utc":true},{"year":2008,"month":10,"date":29,"utc":true},{"year":2008,"month":12,"date":18,"utc":true}],
                      "tickCount": 20, "labelOverlap": false, "labelFlush": false, "labelBound": false,
                      "offset": -216.5, "labelPadding": 19, "title": "Date", "titleX": 585, "titleY": 195}},
       "y": {"field": "v", "type": "quantitative",
             "scale": {"domain": [-6.645, 8.057], "nice": false, "zero": false},
             "axis": {"values": [-6,-5,-4,-3,-2,-1,0,1,2,3,4,5,6], "tickCount": 20, "labelOverlap": false, "labelFlush": false, "labelBound": false,
                      "offset": -94, "labelPadding": 14, "title": "Diff. (Manual- AWS) in °C", "titleX": -74, "titleY": 262.5}}
     }}
  ]
}
]
}
